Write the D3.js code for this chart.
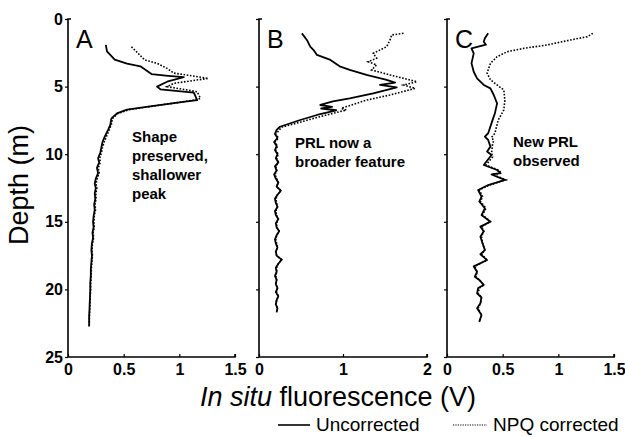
<!DOCTYPE html>
<html>
<head>
<meta charset="utf-8">
<script src="https://cdn.jsdelivr.net/npm/d3@7"></script>
<style>
  body { margin: 0; background: #fff; }
  svg { font-family: "Liberation Sans", Arial, Helvetica, sans-serif; }
</style>
</head>
<body>
<div id="chart"></div>
<script>
// [fluorescence (V), depth (m)]
const panelA_uncorrected = [[0.34,1.92],[0.35,2.4],[0.42,3.0],[0.53,3.3],[0.65,3.5],[0.75,4.07],[0.9,4.2],[1.04,4.3],[0.89,4.64],[0.80,5.0],[0.83,5.2],[1.13,5.45],[1.16,6.0],[1.07,6.1],[0.77,6.43],[0.53,6.7],[0.44,6.98],[0.39,7.35],[0.38,7.84],[0.36,8.2],[0.33,8.7],[0.31,9.1],[0.30,9.5],[0.29,9.9],[0.27,10.3],[0.28,10.6],[0.26,11.0],[0.27,11.4],[0.25,11.8],[0.24,12.2],[0.25,12.5],[0.24,12.9],[0.245,13.3],[0.235,13.7],[0.24,14.1],[0.23,14.6],[0.225,15.0],[0.23,15.4],[0.22,15.8],[0.225,16.2],[0.215,16.6],[0.21,17.1],[0.215,17.5],[0.21,18.0],[0.205,18.5],[0.205,19.0],[0.2,19.5],[0.2,20.0],[0.198,20.5],[0.195,21.0],[0.193,21.5],[0.19,22.0],[0.19,22.75]];
const panelA_corrected = [[0.57,2.05],[0.63,2.54],[0.69,3.03],[0.80,3.28],[0.89,3.65],[0.95,4.0],[1.26,4.39],[0.95,4.76],[0.89,5.0],[1.16,5.38],[1.19,5.87],[1.13,6.0],[0.80,6.4],[0.55,6.7],[0.45,6.98],[0.40,7.35],[0.39,7.8],[0.37,8.2],[0.345,8.7],[0.325,9.1],[0.31,9.5],[0.30,9.9],[0.285,10.3],[0.29,10.6],[0.272,11.0],[0.28,11.4],[0.262,11.8],[0.252,12.2],[0.26,12.5],[0.25,12.9],[0.252,13.3],[0.243,13.7],[0.247,14.1],[0.236,14.6],[0.232,15.0],[0.236,15.4],[0.226,15.8],[0.23,16.2],[0.22,16.6],[0.215,17.1],[0.22,17.5],[0.214,18.0],[0.21,18.5],[0.208,19.0],[0.204,19.5],[0.203,20.0],[0.2,20.5],[0.198,21.0],[0.195,21.5],[0.192,22.0],[0.191,22.75]];

const panelB_uncorrected = [[0.51,1.06],[0.54,1.3],[0.57,1.55],[0.61,2.05],[0.65,2.3],[0.69,2.66],[0.85,3.03],[0.96,3.5],[1.08,3.77],[1.28,4.14],[1.52,4.5],[1.62,4.7],[1.44,4.88],[1.64,5.05],[1.36,5.5],[1.08,5.87],[0.88,6.1],[0.73,6.36],[0.87,6.5],[0.74,6.62],[0.92,6.75],[0.69,7.1],[0.49,7.47],[0.25,7.97],[0.21,8.2],[0.19,8.5],[0.22,8.8],[0.18,9.1],[0.21,9.4],[0.19,9.7],[0.22,10.0],[0.2,10.3],[0.23,10.6],[0.19,10.9],[0.21,11.2],[0.18,11.5],[0.2,11.8],[0.23,12.1],[0.21,12.4],[0.26,12.7],[0.22,13.0],[0.19,13.3],[0.2,13.6],[0.22,13.9],[0.19,14.2],[0.2,14.5],[0.23,14.8],[0.2,15.1],[0.21,15.4],[0.24,15.7],[0.21,16.0],[0.19,16.3],[0.2,16.6],[0.22,16.9],[0.2,17.2],[0.21,17.5],[0.27,17.8],[0.23,18.1],[0.2,18.4],[0.21,18.7],[0.19,19.0],[0.21,19.3],[0.2,19.6],[0.22,19.9],[0.2,20.2],[0.23,20.5],[0.21,20.8],[0.2,21.1],[0.22,21.4],[0.21,21.7]];
const panelB_corrected = [[1.72,1.06],[1.58,1.18],[1.56,1.55],[1.52,2.05],[1.36,2.54],[1.40,2.9],[1.30,3.16],[1.40,3.4],[1.34,3.77],[1.56,4.14],[1.88,4.64],[1.72,4.88],[1.86,5.13],[1.56,5.62],[1.28,6.0],[1.04,6.48],[0.98,6.6],[1.04,6.73],[0.88,6.98],[0.65,7.35],[0.45,7.7],[0.27,8.0],[0.23,8.3],[0.2,8.5],[0.23,8.8],[0.19,9.1],[0.22,9.4],[0.2,9.7],[0.23,10.0],[0.21,10.3],[0.23,10.6],[0.2,10.9],[0.21,11.2],[0.19,11.5],[0.21,11.8],[0.23,12.1],[0.21,12.4],[0.26,12.7],[0.22,13.0],[0.2,13.3],[0.21,13.6],[0.22,13.9],[0.2,14.2],[0.21,14.5],[0.23,14.8],[0.21,15.1],[0.21,15.4],[0.24,15.7],[0.21,16.0],[0.2,16.3],[0.21,16.6],[0.22,16.9],[0.2,17.2],[0.21,17.5],[0.27,17.8],[0.23,18.1],[0.21,18.4],[0.21,18.7],[0.2,19.0],[0.21,19.3],[0.2,19.6],[0.22,19.9],[0.21,20.2],[0.23,20.5],[0.21,20.8],[0.2,21.1],[0.22,21.4],[0.21,21.7]];

const panelC_uncorrected = [[0.37,1.06],[0.34,1.43],[0.33,1.68],[0.35,1.9],[0.22,2.17],[0.24,2.54],[0.22,3.28],[0.24,3.9],[0.27,4.39],[0.33,4.88],[0.39,5.13],[0.42,5.62],[0.45,6.24],[0.43,6.98],[0.40,7.7],[0.37,8.45],[0.34,8.7],[0.37,8.95],[0.39,9.44],[0.36,9.8],[0.40,10.06],[0.33,10.8],[0.45,11.17],[0.48,11.4],[0.40,11.5],[0.52,11.9],[0.37,12.28],[0.28,12.65],[0.31,13.14],[0.29,13.5],[0.34,14.0],[0.31,14.5],[0.39,14.99],[0.30,15.36],[0.33,15.7],[0.30,16.1],[0.32,16.6],[0.34,17.09],[0.30,17.4],[0.36,17.83],[0.24,18.3],[0.27,18.7],[0.25,19.06],[0.29,19.3],[0.33,19.67],[0.28,19.9],[0.27,20.29],[0.31,20.6],[0.30,21.03],[0.27,21.4],[0.31,21.9],[0.29,22.4]];
const panelC_corrected = [[1.31,1.06],[1.26,1.31],[1.11,1.55],[0.90,1.92],[0.69,2.17],[0.54,2.42],[0.45,2.79],[0.39,3.28],[0.36,4.0],[0.39,4.5],[0.45,4.88],[0.51,5.25],[0.52,6.0],[0.51,6.73],[0.46,7.47],[0.43,8.45],[0.40,8.75],[0.42,9.0],[0.41,9.2],[0.40,9.93],[0.41,10.2],[0.35,10.8],[0.46,11.17],[0.49,11.4],[0.41,11.5],[0.53,11.9],[0.38,12.28],[0.29,12.65],[0.32,13.14],[0.3,13.5],[0.35,14.0],[0.32,14.5],[0.39,14.99],[0.31,15.36],[0.33,15.7],[0.31,16.1],[0.32,16.6],[0.34,17.09],[0.31,17.4],[0.36,17.83],[0.25,18.3],[0.27,18.7],[0.26,19.06],[0.29,19.3],[0.33,19.67],[0.29,19.9],[0.28,20.29],[0.31,20.6],[0.3,21.03],[0.28,21.4],[0.31,21.9],[0.29,22.4]];

const panelLabels = ["A", "B", "C"];
const xMax = [1.5, 2, 1.5];
const xTicks = [[0, 0.5, 1, 1.5], [0, 1, 2], [0, 0.5, 1, 1.5]];
const depthTicks = [0, 5, 10, 15, 20, 25];
const notes = [
    ["Shape", "preserved,", "shallower", "peak"],
    ["PRL now a", "broader feature"],
    ["New PRL", "observed"]
];
const seriesNames = ["Uncorrected", "NPQ corrected"];

const W = 625, H = 437;
const plotTop = 19, plotBottom = 357;
const panelX = [[68, 235], [259, 427], [447, 614]];
const noteX = [132, 295, 513];
const noteY = [142, 148, 147];
const noteGap = [19, 18.5, 18.5];

const svg = d3.select("#chart").append("svg")
    .attr("width", W)
    .attr("height", H);

const y = d3.scaleLinear().domain([0, 25]).range([plotTop, plotBottom]);

const series = [
    [panelA_uncorrected, panelA_corrected],
    [panelB_uncorrected, panelB_corrected],
    [panelC_uncorrected, panelC_corrected]
];

panelLabels.forEach((lab, i) => {
    let x = d3.scaleLinear().domain([0, xMax[i]]).range(panelX[i]);
    let g = svg.append("g");

    // y axis
    let yAxis = d3.axisLeft(y).tickValues(depthTicks).tickSize(3).tickSizeOuter(0);
    if (i > 0) yAxis.tickFormat("");
    let ya = g.append("g")
        .attr("transform", `translate(${panelX[i][0]},0)`)
        .call(yAxis);
    ya.select(".domain").remove();
    ya.selectAll("line").attr("stroke-width", 1.2);
    ya.selectAll("text")
        .attr("x", -5)
        .style("font-size", "16px")
        .style("font-weight", "bold")
        .attr("fill", "#000");

    // x axis
    let xAxis = d3.axisBottom(x).tickValues(xTicks[i]).tickSize(-3).tickSizeOuter(0)
        .tickFormat(d3.format("~g"));
    let xa = g.append("g")
        .attr("transform", `translate(0,${plotBottom})`)
        .call(xAxis);
    xa.select(".domain").remove();
    xa.selectAll("line").attr("stroke-width", 1.2);
    xa.selectAll("text")
        .attr("y", 7)
        .attr("dy", "0.71em")
        .style("font-size", "16px")
        .style("font-weight", "bold")
        .attr("fill", "#000");

    // axis frame
    g.append("path")
        .attr("d", `M${panelX[i][0] + 3},${plotTop}H${panelX[i][0]}V${plotBottom}H${panelX[i][1]}V${plotBottom - 3}`)
        .attr("fill", "none")
        .attr("stroke", "#000")
        .attr("stroke-width", 1.6);

    let line = d3.line()
        .x(d => x(d[0]))
        .y(d => y(d[1]));

    g.append("path")
        .datum(series[i][1])
        .attr("d", line)
        .attr("fill", "none")
        .attr("stroke", "#000")
        .attr("stroke-width", 1.6)
        .attr("stroke-dasharray", "1.6,1.6");

    g.append("path")
        .datum(series[i][0])
        .attr("d", line)
        .attr("fill", "none")
        .attr("stroke", "#000")
        .attr("stroke-width", 1.8)
        .attr("stroke-linejoin", "round");

    g.append("text")
        .attr("x", panelX[i][0] + 8)
        .attr("y", 48)
        .style("font-size", "25px")
        .text(lab);

    let t = g.append("text")
        .attr("x", noteX[i])
        .attr("y", noteY[i])
        .style("font-size", "15px")
        .style("font-weight", "bold");
    notes[i].forEach((s, k) => {
        t.append("tspan")
            .attr("x", noteX[i])
            .attr("dy", k === 0 ? 0 : noteGap[i])
            .text(s);
    });
});

svg.append("text")
    .attr("transform", `translate(28,185) rotate(-90)`)
    .attr("text-anchor", "middle")
    .style("font-size", "27px")
    .text("Depth (m)");

let xt = svg.append("text")
    .attr("x", 338)
    .attr("y", 406)
    .attr("text-anchor", "middle")
    .style("font-size", "27px");
xt.append("tspan").style("font-style", "italic").text("In situ");
xt.append("tspan").text(" fluorescence (V)");

// legend
let leg = svg.append("g");
leg.append("line")
    .attr("x1", 278).attr("x2", 310)
    .attr("y1", 425).attr("y2", 425)
    .attr("stroke", "#000").attr("stroke-width", 1.6);
leg.append("text")
    .attr("x", 316).attr("y", 431)
    .style("font-size", "19px")
    .text(seriesNames[0]);
leg.append("line")
    .attr("x1", 453).attr("x2", 487)
    .attr("y1", 425).attr("y2", 425)
    .attr("stroke", "#000").attr("stroke-width", 1.2)
    .attr("stroke-dasharray", "1.2,1.2");
leg.append("text")
    .attr("x", 493).attr("y", 431)
    .style("font-size", "19px")
    .text(seriesNames[1]);
</script>
</body>
</html>
